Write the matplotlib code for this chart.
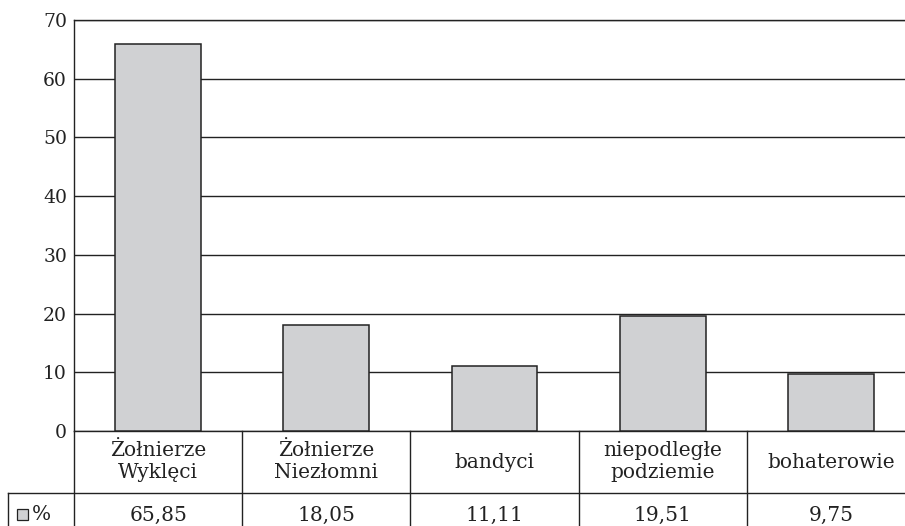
import matplotlib
matplotlib.use("Agg")
import matplotlib.pyplot as plt
from matplotlib.patches import Rectangle
import matplotlib.transforms as mtransforms

categories = ["Żołnierze\nWyklęci", "Żołnierze\nNiezłomni", "bandyci",
              "niepodległe\npodziemie", "bohaterowie"]
values = [65.85, 18.05, 11.11, 19.51, 9.75]
value_labels = ["65,85", "18,05", "11,11", "19,51", "9,75"]
series_name = "%"
yticks = [0, 10, 20, 30, 40, 50, 60, 70]

plt.rcParams['font.family'] = ['DejaVu Serif']
bar_color = "#d0d1d3"
line_color = "#222222"
text_color = "#222222"
fs = 14.5

W, H = 905, 526
fig = plt.figure(figsize=(W / 100, H / 100), dpi=100)
left, right, top, bottom = 74, 915, 20, 431
ax = fig.add_axes([left / W, 1 - bottom / H, (right - left) / W, (bottom - top) / H])

x = range(len(categories))
ax.bar(x, values, width=0.51, color=bar_color, edgecolor=line_color, linewidth=1.1, zorder=3)

ax.set_xlim(-0.5, len(categories) - 0.5)
ax.set_ylim(0, 70)
ax.set_yticks(yticks)
ax.set_yticklabels([str(t) for t in yticks], fontsize=13.5)
ax.tick_params(axis='y', length=0, pad=5, colors=text_color)
ax.set_xticks([])
ax.yaxis.grid(True, color=line_color, linewidth=1.0, zorder=0)
ax.spines["right"].set_visible(False)
for s in ["left", "bottom", "top"]:
    ax.spines[s].set_color(line_color)
    ax.spines[s].set_linewidth(1.0)

# data table below the axis
ah = bottom - top
row1 = -(493 - bottom) / ah
row2 = -(560 - bottom) / ah
trans = mtransforms.blended_transform_factory(ax.transData, ax.transAxes)
lw = 1.0
for i in range(len(categories) + 1):
    ax.plot([i - 0.5, i - 0.5], [0, row2], transform=trans, color=line_color,
            lw=lw, clip_on=False)
xl = -0.5 - (left - 8) / ((right - left) / len(categories))
ax.plot([xl, len(categories) - 0.5], [row1, row1], transform=trans,
        color=line_color, lw=lw, clip_on=False)
ax.plot([xl, xl], [row1, row2], transform=trans, color=line_color, lw=lw, clip_on=False)

val_y = -(515 - bottom) / ah
for i, (c, v) in enumerate(zip(categories, value_labels)):
    ax.text(i, row1 / 2, c, transform=trans, ha="center", va="center",
            fontsize=fs, linespacing=1.2, color=text_color)
    ax.text(i, val_y, v, transform=trans, ha="center", va="center",
            fontsize=fs, color=text_color)

# legend key in row label cell
ymid = 1 - 514 / H
fig.patches.append(Rectangle((17 / W, ymid - 5.5 / H), 11 / W, 11 / H,
                             transform=fig.transFigure, facecolor=bar_color,
                             edgecolor=line_color, linewidth=0.9))
fig.text(32 / W, ymid, series_name, ha="left", va="center", fontsize=fs,
         color=text_color)

fig.savefig("out.png", dpi=100)
